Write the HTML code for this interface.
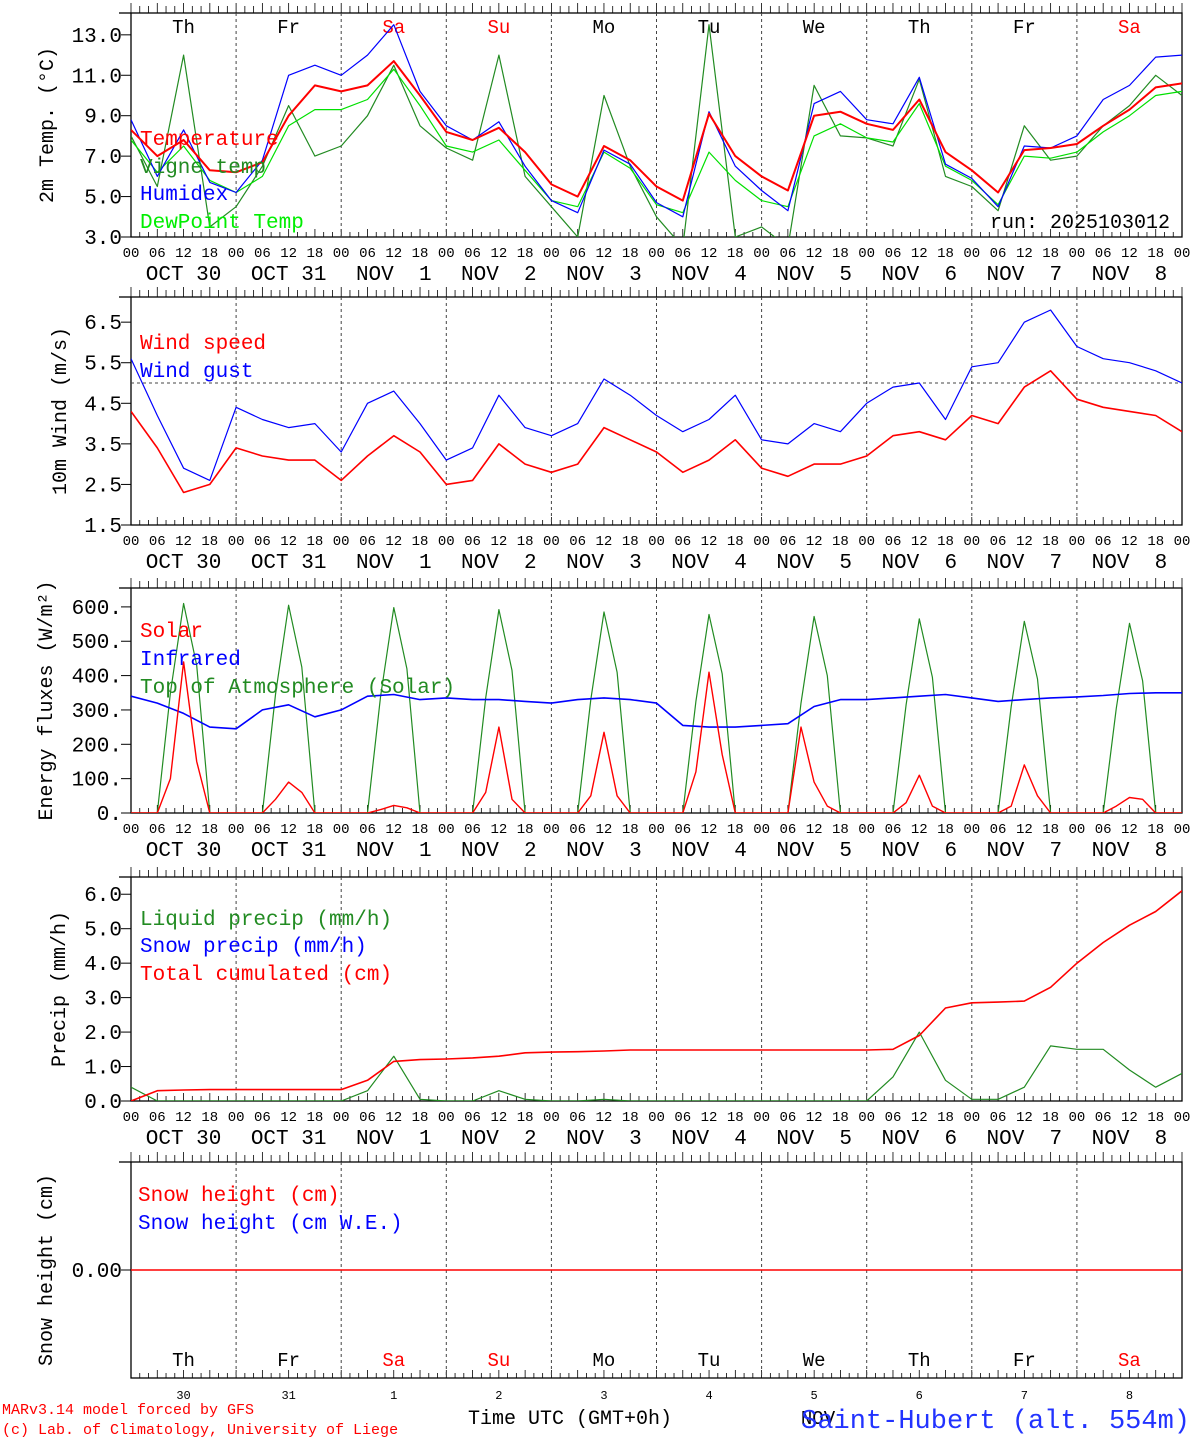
<!DOCTYPE html>
<html><head><meta charset="utf-8"><style>
html,body{margin:0;padding:0;background:#fff}
svg{display:block}
text{font-family:"Liberation Mono",monospace}
</style></head><body>
<svg id="c" width="1194" height="1440" xmlns="http://www.w3.org/2000/svg"></svg>
<script>
// ---------- data (6-hourly from Oct 30 00 UTC unless noted) ----------
const days=["Th","Fr","Sa","Su","Mo","Tu","We","Th","Fr","Sa"];
const dayNums=["30","31","1","2","3","4","5","6","7","8"];
const dateLabels=["OCT 30","OCT 31","NOV  1","NOV  2","NOV  3","NOV  4","NOV  5","NOV  6","NOV  7","NOV  8"];
const hourTicks=["00","06","12","18"];
const tempRed=[8.3,7.0,7.8,6.3,6.2,6.7,9.0,10.5,10.2,10.5,11.7,10.0,8.2,7.8,8.4,7.2,5.6,5.0,7.5,6.8,5.5,4.8,9.1,7.0,6.0,5.3,9.0,9.2,8.6,8.3,9.8,7.2,6.3,5.2,7.3,7.4,7.6,8.5,9.3,10.4,10.6];
const humidex=[8.8,6.0,8.3,5.7,5.2,6.8,11.0,11.5,11.0,12.0,13.5,10.2,8.5,7.8,8.7,6.5,4.8,4.2,7.3,6.6,4.7,4.0,9.2,6.5,5.3,4.3,9.6,10.2,8.8,8.6,10.9,6.6,5.9,4.5,7.5,7.4,8.0,9.8,10.5,11.9,12.0];
const vigne=[8.0,5.5,12.0,3.5,4.5,6.5,9.5,7.0,7.5,9.0,11.5,8.5,7.4,6.8,12.0,6.0,4.5,3.0,10.0,6.5,4.0,2.5,13.5,3.0,3.5,2.5,10.5,8.0,7.9,7.5,10.8,6.0,5.5,4.3,8.5,6.8,7.0,8.5,9.5,11.0,10.0];
const dewpoint=[7.8,6.2,7.5,5.8,5.2,6.0,8.5,9.3,9.3,9.8,11.3,9.5,7.5,7.2,7.8,6.3,4.8,4.5,7.2,6.4,4.6,4.2,7.2,5.8,4.8,4.5,8.0,8.6,7.9,7.7,9.6,6.5,5.8,4.6,7.0,6.9,7.2,8.2,9.0,10.0,10.2];
const windSpeed=[4.3,3.4,2.3,2.5,3.4,3.2,3.1,3.1,2.6,3.2,3.7,3.3,2.5,2.6,3.5,3.0,2.8,3.0,3.9,3.6,3.3,2.8,3.1,3.6,2.9,2.7,3.0,3.0,3.2,3.7,3.8,3.6,4.2,4.0,4.9,5.3,4.6,4.4,4.3,4.2,3.8];
const windGust=[5.6,4.2,2.9,2.6,4.4,4.1,3.9,4.0,3.3,4.5,4.8,4.0,3.1,3.4,4.7,3.9,3.7,4.0,5.1,4.7,4.2,3.8,4.1,4.7,3.6,3.5,4.0,3.8,4.5,4.9,5.0,4.1,5.4,5.5,6.5,6.8,5.9,5.6,5.5,5.3,5.0];
const infrared=[340,320,290,250,245,300,315,280,300,340,345,330,335,330,330,325,320,330,335,330,320,255,250,250,255,260,310,330,330,335,340,345,335,325,330,335,338,342,348,350,350];
// 3-hourly
const solar=[0,0,0,100,440,150,0,0, 0,0,0,40,90,60,0,0, 0,0,0,10,22,15,0,0, 0,0,0,60,250,40,0,0, 0,0,0,50,235,50,0,0, 0,0,0,120,410,170,0,0, 0,0,0,250,90,20,0,0, 0,0,0,30,110,20,0,0, 0,0,0,20,140,50,0,0, 0,0,0,20,45,40,0,0, 0];
const toa=[0,0,0,350,610,430,0,0, 0,0,0,345,605,425,0,0, 0,0,0,340,598,420,0,0, 0,0,0,335,592,415,0,0, 0,0,0,330,585,410,0,0, 0,0,0,325,578,405,0,0, 0,0,0,320,572,400,0,0, 0,0,0,315,565,395,0,0, 0,0,0,310,558,390,0,0, 0,0,0,305,552,385,0,0, 0];
const liquid=[0.4,0,0,0,0,0,0,0,0,0.3,1.3,0.05,0,0,0.3,0.05,0,0,0.05,0,0,0,0,0,0,0,0,0,0,0.7,2.0,0.6,0.05,0.05,0.4,1.6,1.5,1.5,0.9,0.4,0.8];
const cumul=[0,0.3,0.32,0.33,0.33,0.33,0.33,0.33,0.33,0.6,1.15,1.2,1.22,1.25,1.3,1.4,1.42,1.43,1.45,1.48,1.48,1.48,1.48,1.48,1.48,1.48,1.48,1.48,1.48,1.5,1.9,2.7,2.85,2.87,2.9,3.3,4.0,4.6,5.1,5.5,6.1];
const snowH=[0,0,0,0,0,0,0,0,0,0,0,0,0,0,0,0,0,0,0,0,0,0,0,0,0,0,0,0,0,0,0,0,0,0,0,0,0,0,0,0,0];

const svg=document.getElementById('c');
const NS="http://www.w3.org/2000/svg";
const X0=131,X1=1182;
const xh=h=>X0+(X1-X0)*h/240;
function mk(tag,attrs,parent){const e=document.createElementNS(NS,tag);for(const k in attrs)e.setAttribute(k,attrs[k]);(parent||svg).appendChild(e);return e;}
function txt(s,x,y,size,fill,anchor,parent){const t=mk('text',{x:x,y:y,'font-size':size,fill:fill||'#000','text-anchor':anchor||'middle'},parent);t.textContent=s;t.style.whiteSpace='pre';return t;}

const panels=[
 {top:13,bot:237,min:3,max:14.08,ticks:[3,5,7,9,11,13],fmt:v=>v.toFixed(1),title:"2m Temp. (\u00B0C)",lab:257,date:280},
 {top:297,bot:525,min:1.5,max:7.12,ticks:[1.5,2.5,3.5,4.5,5.5,6.5],fmt:v=>v.toFixed(1),title:"10m Wind (m/s)",lab:545,date:568},
 {top:588,bot:813,min:0,max:655,ticks:[0,100,200,300,400,500,600],fmt:v=>v+".",title:"Energy fluxes (W/m\u00B2)",lab:833,date:856},
 {top:877,bot:1101,min:0,max:6.5,ticks:[0,1,2,3,4,5,6],fmt:v=>v.toFixed(1),title:"Precip (mm/h)",lab:1121,date:1144},
 {top:1162,bot:1378,min:-1,max:1,ticks:[0],fmt:v=>"0.00",title:"Snow height (cm)",lab:null,date:null}
];
panels.forEach(p=>{p.y=v=>p.bot-(v-p.min)/(p.max-p.min)*(p.bot-p.top);});

panels.forEach((p,pi)=>{
 const g=mk('g',{});
 
 
 const fr=mk('rect',{x:X0,y:p.top,width:X1-X0,height:p.bot-p.top,fill:'none',stroke:'#000','stroke-width':1.3},g);
 
 
 mk('line',{x1:119,x2:X0,y1:p.top,y2:p.top,stroke:'#000','stroke-width':1.3},g);
 for(let h=0;h<=240;h+=2){const x=xh(h);
  mk('line',{x1:x,x2:x,y1:p.top,y2:p.top-(h%6==0?10:7),stroke:'#000','stroke-width':0.8},g);
  mk('line',{x1:x,x2:x,y1:p.bot,y2:p.bot-(h%6==0?8:5),stroke:'#000','stroke-width':0.8},g);}
 for(let d=1;d<10;d++){const x=xh(d*24);mk('line',{x1:x,x2:x,y1:p.top,y2:p.bot,stroke:'#444','stroke-dasharray':'3,3','stroke-width':1},g);}
 p.ticks.forEach(v=>{const y=p.y(v);mk('line',{x1:X0-10,x2:X0,y1:y,y2:y,stroke:'#000'},g);
  const t=txt(p.fmt(v),X0-9,y+7,21,'#000','end',g);
  
  });
 const ty=(p.top+p.bot)/2;
 const tt=mk('text',{x:0,y:0,'font-size':20,'text-anchor':'middle',transform:`translate(${pi==0?53:(pi==1?66:(pi==2?52:(pi==3?65:52)))},${ty}) rotate(-90)`},g);
 tt.textContent=p.title;
 
 
 if(p.lab){for(let d=0;d<=10;d++)for(let k=0;k<4;k++){if(d==10&&k>0)break;txt(hourTicks[k],xh(d*24+k*6),p.lab,14,'#000','middle',g);}
  for(let d=0;d<10;d++){const t=txt(dateLabels[d],xh(d*24+12),p.date,21,'#000','middle',g);
   
   }}
});
for(let d=0;d<10;d++){const c=(d==2||d==3||d==9)?'#f00':'#000';
 const t=txt(days[d],xh(d*24+12),33,19,c);
 
 
 const b=txt(days[d],xh(d*24+12),1366,19,c);
 
 
 const n=txt(dayNums[d],xh(d*24+12),1399,12,'#000');
 
 }

function series(arr,step,p,color,w,name){
 const pts=arr.map((v,i)=>xh(i*step).toFixed(1)+','+p.y(v).toFixed(1)).join(' ');
 const cp='cp'+name;
 const c=mk('clipPath',{id:cp});mk('rect',{x:X0,y:p.top,width:X1-X0,height:p.bot-p.top},c);
 const l=mk('polyline',{points:pts,fill:'none',stroke:color,'stroke-width':w,'clip-path':`url(#${cp})`,'stroke-linejoin':'round'});
 
 }
const P=panels;
series(vigne,6,P[0],'#228b22',1.2,'vigne-temp-line');
series(dewpoint,6,P[0],'#00e000',1.2,'dewpoint-line');
series(humidex,6,P[0],'#0000ff',1.2,'humidex-line');
series(tempRed,6,P[0],'#ff0000',2,'temperature-line');
mk('line',{x1:X0,x2:X1,y1:P[1].y(5),y2:P[1].y(5),stroke:'#444','stroke-dasharray':'3,3'});
series(windGust,6,P[1],'#0000ff',1.2,'wind-gust-line');
series(windSpeed,6,P[1],'#ff0000',1.6,'wind-speed-line');
series(toa,3,P[2],'#228b22',1.2,'toa-solar-line');
series(infrared,6,P[2],'#0000ff',1.6,'infrared-line');
series(solar,3,P[2],'#ff0000',1.4,'solar-line');
series(liquid,6,P[3],'#228b22',1.2,'liquid-precip-line');
series(cumul,6,P[3],'#ff0000',1.6,'cumulated-precip-line');
series(snowH,6,P[4],'#ff0000',1.4,'snow-height-line');

function leg(s,y,c,x){const t=txt(s,x||140,y,21,c,'start');
 
 }
leg("Temperature",145,'#f00');leg("Vigne temp",173,'#228b22');leg("Humidex",200,'#00f');leg("DewPoint Temp",228,'#0e0');
leg("Wind speed",349,'#f00');leg("Wind gust",377,'#00f');
leg("Solar",637,'#f00');leg("Infrared",665,'#00f');leg("Top of Atmosphere (Solar)",693,'#228b22');
leg("Liquid precip (mm/h)",925,'#228b22');leg("Snow precip (mm/h)",952,'#00f');leg("Total cumulated (cm)",980,'#f00');
leg("Snow height (cm)",1201,'#f00',138);leg("Snow height (cm W.E.)",1229,'#00f',138);
const run=txt("run: 2025103012",1170,228,20,'#000','end');


const f1=txt("MARv3.14 model forced by GFS",2,1414,15,'#f00','start');


const f2=txt("(c) Lab. of Climatology, University of Liege",2,1434,15,'#f00','start');


const xt=txt("Time UTC (GMT+0h)",570,1424,20,'#000','middle');


const nv=txt("NOV",818,1424,19,'#000','middle');


const st=txt("Saint-Hubert (alt. 554m)",1190,1428,27,'#2233ff','end');


</script>
</body></html>
